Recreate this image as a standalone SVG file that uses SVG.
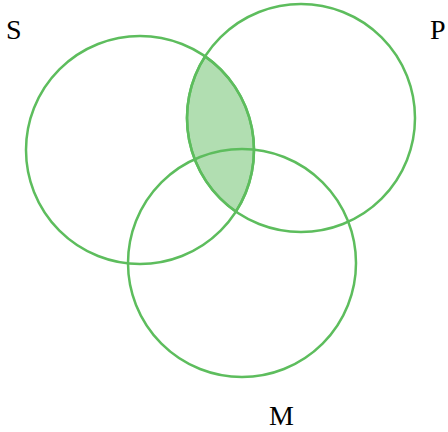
<svg xmlns="http://www.w3.org/2000/svg" width="448" height="432" viewBox="0 0 448 432">
<style>
.c{fill:none;stroke:#5dbd5d;stroke-width:2.5}
.lens{fill:#b1deb1;stroke:#5dbd5d;stroke-width:2.5}
.t{font-family:"Liberation Serif","DejaVu Serif",serif;font-size:28px;fill:#000}
</style>
<rect width="448" height="432" fill="#fff"/>
<g id="lens"><path class="lens" d="M205.1 56.4 A114 114 0 0 1 235.9 211.6 A114 114 0 0 1 205.1 56.4 Z"/></g>
<g id="S"><circle class="c" cx="140" cy="150" r="114"/><text class="t" x="6" y="39">S</text></g>
<g id="P"><circle class="c" cx="301" cy="118" r="114"/><text class="t" x="430" y="39">P</text></g>
<g id="M"><circle class="c" cx="242" cy="263" r="114"/><text class="t" x="269" y="425">M</text></g>
</svg>
